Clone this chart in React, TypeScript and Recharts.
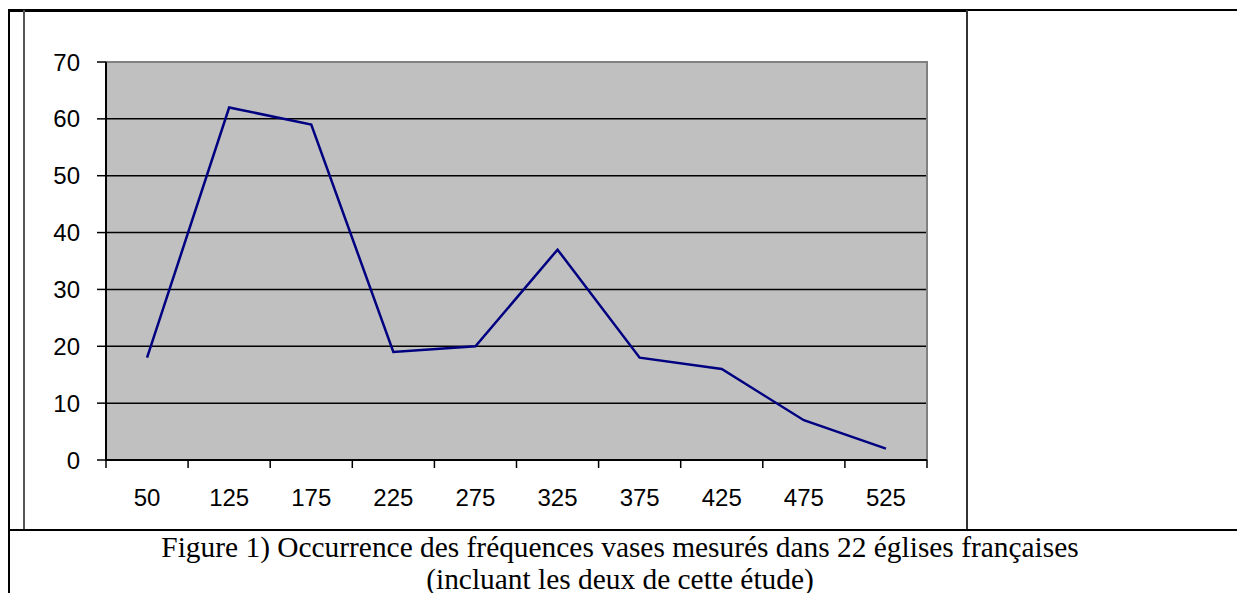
import React from "react";
import { LineChart, Line, XAxis, YAxis, CartesianGrid, ReferenceArea } from "recharts";

const categories = ["50", "125", "175", "225", "275", "325", "375", "425", "475", "525"];
const occurrences = [18, 62, 59, 19, 20, 37, 18, 16, 7, 2];
const yTicks = [0, 10, 20, 30, 40, 50, 60, 70];
const captionLine1 = "Figure 1) Occurrence des fréquences vases mesurés dans 22 églises françaises";
const captionLine2 = "(incluant les deux de cette étude)";

const data = categories.map((c, i) => ({ label: c, value: occurrences[i] }));

const FONT = "'Liberation Sans', Arial, sans-serif";
const SERIF = "'Liberation Serif', 'Times New Roman', serif";

const XTick = (props: any) => {
  const { x, y, payload, index, visibleTicksCount } = props;
  const half = payload && typeof payload.offset === "number" ? payload.offset : 41;
  const last = index === (visibleTicksCount ?? categories.length) - 1;
  return (
    <g>
      <line x1={x - half} x2={x - half} y1={y} y2={y + 8} stroke="#000" strokeWidth={1.5} />
      {last && <line x1={x + half} x2={x + half} y1={y} y2={y + 8} stroke="#000" strokeWidth={1.5} />}
      <text x={x} y={y + 46} textAnchor="middle" fontFamily={FONT} fontSize={24} fill="#000">
        {payload.value}
      </text>
    </g>
  );
};

const frameLine = (s: React.CSSProperties) => (
  <div style={{ position: "absolute", background: "#000", ...s }} />
);

export default function App() {
  return (
    <div style={{ position: "absolute", left: 0, top: 0, width: 1237, height: 593, overflow: "hidden", background: "#fff" }}>
      {frameLine({ left: 8, top: 9, width: 960, height: 3 })}
      {frameLine({ left: 966, top: 9, width: 271, height: 2 })}
      {frameLine({ left: 8, top: 9, width: 2, height: 584 })}
      {frameLine({ left: 23, top: 10, width: 2, height: 520, background: "#555" })}
      {frameLine({ left: 966, top: 10, width: 2, height: 520, background: "#333" })}
      {frameLine({ left: 8, top: 529, width: 1229, height: 2 })}
      <div style={{ position: "absolute", left: 0, top: 0 }}>
        <LineChart width={1000} height={530} data={data} margin={{ top: 62, right: 73, bottom: 10, left: 0 }}>
          <CartesianGrid fill="#C0C0C0" stroke="#000" strokeWidth={1.5} vertical={false} />
          <ReferenceArea y1={0} y2={70} fill="none" stroke="#808080" strokeWidth={2} ifOverflow="visible" />
          <XAxis
            dataKey="label"
            type="category"
            scale="band"
            height={60}
            tickLine={false}
            tickSize={0}
            tickMargin={0}
            interval={0}
            axisLine={{ stroke: "#000", strokeWidth: 2 }}
            tick={<XTick />}
          />
          <YAxis
            type="number"
            domain={[0, 70]}
            ticks={yTicks}
            width={106}
            interval={0}
            tickSize={9}
            tickMargin={17}
            axisLine={{ stroke: "#000", strokeWidth: 2 }}
            tickLine={{ stroke: "#000", strokeWidth: 1.5 }}
            tick={{ fill: "#000", fontSize: 24, fontFamily: FONT }}
          />
          <Line
            type="linear"
            dataKey="value"
            stroke="#000080"
            strokeWidth={2.5}
            dot={false}
            isAnimationActive={false}
          />
        </LineChart>
      </div>
      <div
        style={{
          position: "absolute",
          left: 20,
          top: 531,
          width: 1200,
          textAlign: "center",
          fontFamily: SERIF,
          fontSize: 29.4,
          lineHeight: "32px",
          color: "#000",
          whiteSpace: "nowrap",
        }}
      >
        <div>{captionLine1}</div>
        <div>{captionLine2}</div>
      </div>
    </div>
  );
}
